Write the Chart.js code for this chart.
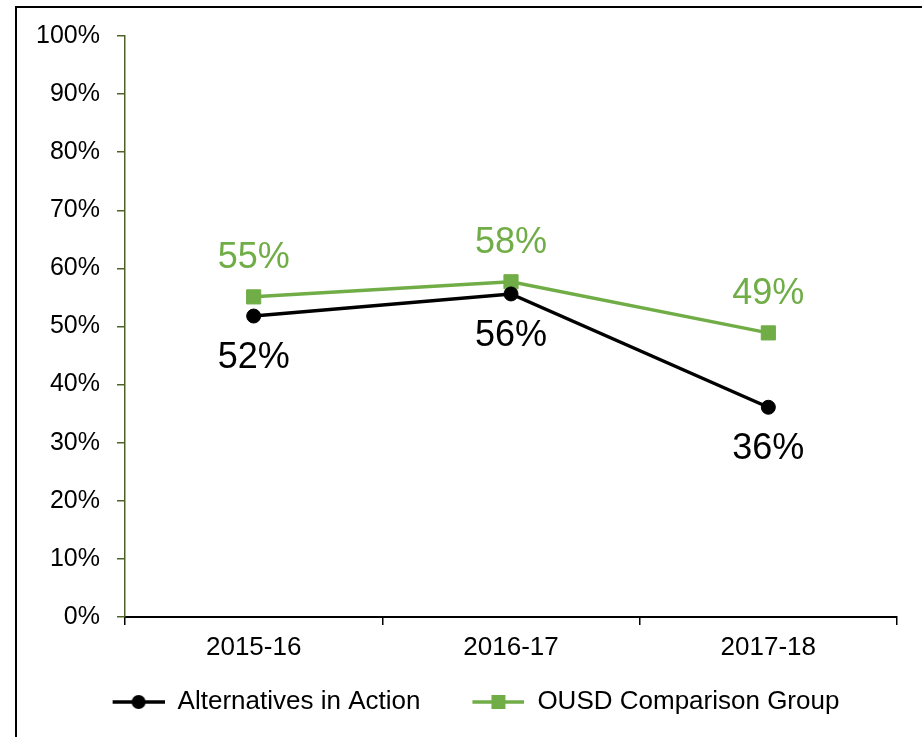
<!DOCTYPE html>
<html>
<head>
<meta charset="utf-8">
<script src="https://cdn.jsdelivr.net/npm/chart.js@4/dist/chart.umd.min.js"></script>
<style>
  html, body { margin: 0; padding: 0; background: #fff; overflow: hidden; width: 922px; height: 737px; }
  #frame { position: absolute; left: 15px; top: 6px; width: 2000px; height: 2000px;
           border-left: 2px solid #000; border-top: 2px solid #000; }
  #c { position: absolute; left: 0; top: 0; }
</style>
</head>
<body>
<div id="frame"></div>
<canvas id="c" width="922" height="737"></canvas>
<script>
// ---- data ----
const categories = ['2015-16', '2016-17', '2017-18'];
const seriesNames = ['Alternatives in Action', 'OUSD Comparison Group'];
const aiaValues = [51.8, 55.6, 36.1];
const ousdValues = [55.1, 57.7, 48.9];
const yTicks = [0, 10, 20, 30, 40, 50, 60, 70, 80, 90, 100];

const BLACK = '#000000';
const GREEN = '#70AD47';
const OLIVE = '#4F6228';
const FONT = "'Liberation Sans', Arial, sans-serif";

Chart.defaults.font.family = FONT;
Chart.defaults.color = '#000';

// legend swatch: line with marker, leading blank space of 22px
const SW_W = 74, SW_BLANK = 22;
function legendImage(color, shape) {
  const cv = document.createElement('canvas');
  cv.width = SW_W; cv.height = 16;
  const g = cv.getContext('2d');
  g.strokeStyle = color; g.lineWidth = 3.5;
  g.beginPath(); g.moveTo(SW_BLANK, 8); g.lineTo(SW_W, 8); g.stroke();
  g.fillStyle = color;
  const cx = SW_BLANK + (SW_W - SW_BLANK) / 2;
  if (shape === 'circle') {
    g.beginPath(); g.arc(cx, 8, 7, 0, Math.PI * 2); g.fill();
  } else {
    g.fillRect(cx - 7, 1, 14, 14);
  }
  return cv;
}
const legendImgs = [legendImage(BLACK, 'circle'), legendImage(GREEN, 'rect')];

const dataLabelPlugin = {
  id: 'dataLabels',
  afterDatasetsDraw(chart) {
    const ctx = chart.ctx;
    ctx.save();
    ctx.font = '36px ' + FONT;
    ctx.textAlign = 'center';
    ctx.textBaseline = 'middle';
    chart.data.datasets.forEach((ds, di) => {
      const meta = chart.getDatasetMeta(di);
      const off = ds.labelOffset;
      meta.data.forEach((pt, i) => {
        ctx.fillStyle = ds.borderColor;
        ctx.fillText(Math.round(ds.data[i]) + '%', pt.x, pt.y + off);
      });
    });
    ctx.restore();
  }
};

new Chart(document.getElementById('c'), {
  type: 'line',
  data: {
    labels: categories,
    datasets: [
      {
        label: seriesNames[0], data: aiaValues,
        borderColor: BLACK, backgroundColor: BLACK, borderWidth: 3.5,
        pointStyle: 'circle', pointRadius: 7, pointBorderWidth: 1,
        pointBackgroundColor: BLACK, pointBorderColor: BLACK,
        tension: 0, labelOffset: 42
      },
      {
        label: seriesNames[1], data: ousdValues,
        borderColor: GREEN, backgroundColor: GREEN, borderWidth: 3.5,
        pointStyle: 'rect', pointRadius: 10, pointBorderWidth: 1,
        pointBackgroundColor: GREEN, pointBorderColor: GREEN,
        tension: 0, labelOffset: -39
      }
    ]
  },
  options: {
    responsive: false,
    devicePixelRatio: 1,
    animation: false,
    layout: { padding: { left: 33, right: 25, top: 36, bottom: 12 } },
    scales: {
      x: {
        type: 'category',
        offset: true,
        afterFit(s) { s.height = 42; },
        grid: { offset: true, drawOnChartArea: false, drawTicks: true, tickLength: 8, color: BLACK, lineWidth: 1.5 },
        border: { display: true, color: BLACK, width: 2 },
        ticks: { font: { size: 26 }, color: '#000', padding: 7, maxRotation: 0 }
      },
      y: {
        min: 0, max: 100,
        afterFit(s) { s.width = 92; },
        afterBuildTicks(s) { s.ticks = yTicks.map(v => ({ value: v })); },
        grid: { drawOnChartArea: false, drawTicks: true, tickLength: 8, color: OLIVE, lineWidth: 1.5 },
        border: { display: true, color: OLIVE, width: 1.5 },
        ticks: { font: { size: 25 }, color: '#000', padding: 17, callback: v => v + '%' }
      }
    },
    plugins: {
      tooltip: { enabled: false },
      legend: {
        position: 'bottom',
        labels: {
          font: { size: 26 }, color: '#000',
          usePointStyle: true, pointStyleWidth: SW_W, padding: 30,
          generateLabels(chart) {
            const items = Chart.defaults.plugins.legend.labels.generateLabels(chart);
            items.forEach((it, i) => { it.pointStyle = legendImgs[i]; });
            return items;
          }
        }
      }
    }
  },
  plugins: [dataLabelPlugin]
});
</script>
</body>
</html>
